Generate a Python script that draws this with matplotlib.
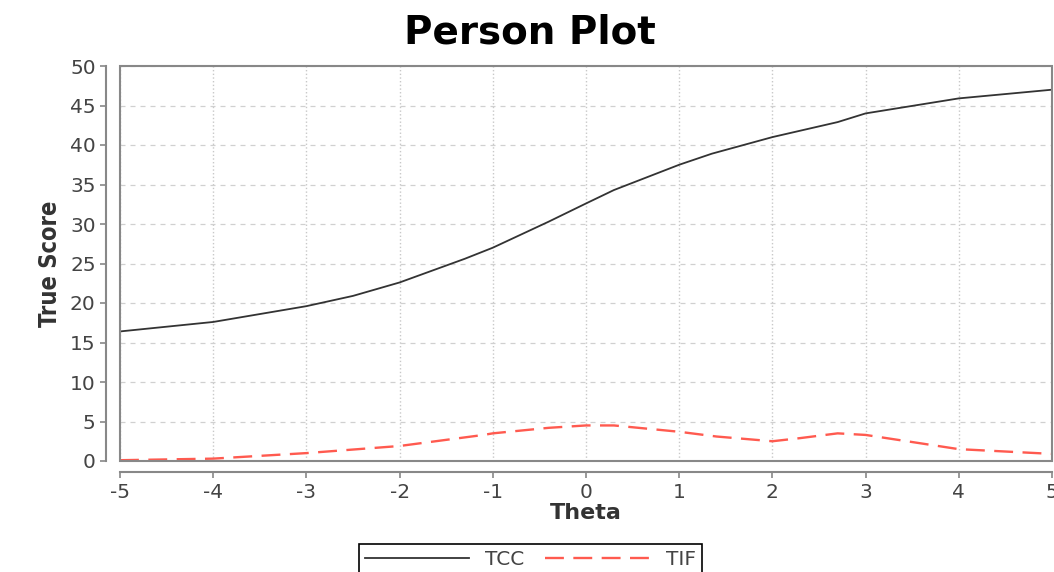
import matplotlib.pyplot as plt
from matplotlib.patches import Rectangle

plt.rcParams['axes.unicode_minus'] = False

# 讀圖估計的數據
theta_tcc = [-5, -4, -3, -2.5, -2, -1.3, -1, -0.4, 0, 0.3, 1, 1.35, 2, 2.7, 3, 4, 5]
tcc = [16.4, 17.6, 19.6, 20.9, 22.6, 25.6, 27.0, 30.3, 32.6, 34.3, 37.5, 38.9, 41.0, 42.9, 44.0, 45.9, 47.0]

theta_tif = [-5, -4, -3, -2, -1.1, -1, -0.4, 0, 0.3, 1, 1.4, 2, 2.3, 2.7, 3, 4, 5]
tif = [0.1, 0.3, 1.0, 1.9, 3.3, 3.5, 4.2, 4.5, 4.5, 3.7, 3.1, 2.5, 2.9, 3.5, 3.3, 1.5, 0.9]

x_ticks = [-5, -4, -3, -2, -1, 0, 1, 2, 3, 4, 5]
y_ticks = [0, 5, 10, 15, 20, 25, 30, 35, 40, 45, 50]

fig = plt.figure(figsize=(10.54, 5.72), dpi=100)
ax = fig.add_axes([120 / 1054, 1 - 461 / 572, (1052 - 120) / 1054, (461 - 66) / 572])

ax.plot(theta_tcc, tcc, color='#333333', linewidth=1.3, label='TCC')
ax.plot(theta_tif, tif, color='#ff5a4f', linewidth=1.7, dashes=(8, 4), label='TIF')

ax.set_xlim(-5, 5)
ax.set_ylim(0, 50)
ax.set_xticks(x_ticks)
ax.set_yticks(y_ticks)

# 格線：垂直點線、水平虛線
ax.xaxis.grid(True, linestyle=':', color='#c8c8c8', linewidth=1.0)
ax.yaxis.grid(True, linestyle='--', color='#d0d0d0', linewidth=0.9, dashes=(4, 4))
ax.set_axisbelow(True)

for s in ['top', 'right']:
    ax.spines[s].set_visible(False)
ax.spines['left'].set_position(('outward', 10))
ax.spines['bottom'].set_position(('outward', 8))
for s in ['left', 'bottom']:
    ax.spines[s].set_color('#888888')
    ax.spines[s].set_linewidth(1.5)
ax.add_patch(Rectangle((0, 0), 1, 1, transform=ax.transAxes, fill=False,
                       edgecolor='#888888', linewidth=1.5, clip_on=False, zorder=5))

ax.tick_params(axis='both', colors='#888888', labelcolor='#444444',
               labelsize=14.5, length=4, width=1.2)

ax.set_xlabel('Theta', fontsize=16, fontweight='bold', color='#333333', labelpad=1)
ax.set_ylabel('True Score', fontsize=17, fontweight='bold', color='#333333',
              fontstretch='condensed', labelpad=6)

fig.text(0.503, 0.944, 'Person Plot', ha='center', va='center',
         fontsize=28, fontweight='bold', color='black')

leg = fig.legend(loc='upper center', bbox_to_anchor=(0.503, 0.067), ncol=2,
                 fontsize=14.5, handlelength=5.2, fancybox=False, framealpha=1,
                 edgecolor='black', borderpad=0.3, columnspacing=1.0, handletextpad=0.8)
for t in leg.get_texts():
    t.set_color('#444444')
leg.get_frame().set_linewidth(1.2)

fig.savefig('out.png', dpi=100)
